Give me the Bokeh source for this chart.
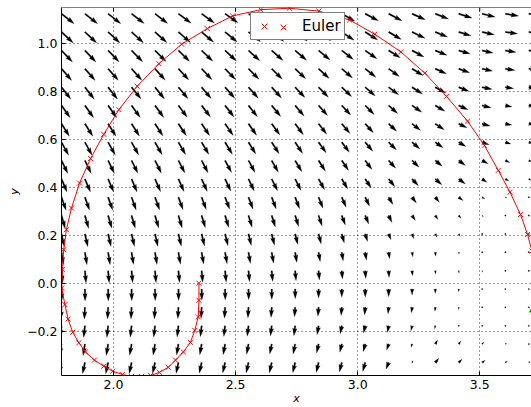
import math
from bokeh.plotting import figure
from bokeh.models import Range1d, FixedTicker, Span, Legend, LegendItem
from bokeh.embed import file_html
from bokeh.resources import INLINE

# ---------------- data ----------------
# quiver grid (tail positions)
grid_x = [1.787, 1.883, 1.978, 2.074, 2.170, 2.266, 2.361, 2.457, 2.553, 2.648, 2.744,
          2.840, 2.935, 3.031, 3.127, 3.223, 3.318, 3.414, 3.510, 3.605, 3.701]
grid_y = [1.122, 1.046, 0.969, 0.893, 0.816, 0.740, 0.664, 0.587, 0.511, 0.434,
          0.358, 0.282, 0.205, 0.129, 0.052, -0.024, -0.100, -0.177, -0.253, -0.330]

# arrow components (quiver units), one list per row of grid_y, one value per grid_x
U = [
    [12.7,12.7,12.7,12.7,12.7,12.8,12.8,12.9,12.9,13.0,13.0,13.0,13.1,13.2,13.3,13.3,13.3,13.3,13.0,13.3,13.3],
    [11.8,11.8,11.8,11.9,11.9,12.0,12.0,12.1,12.1,12.2,12.2,12.3,12.4,12.5,12.7,13.0,12.3,12.3,12.3,12.3,12.0],
    [11.0,11.0,11.0,11.1,11.1,11.2,11.2,11.3,11.3,11.4,11.5,11.5,11.6,11.7,11.7,12.0,11.7,11.5,11.0,10.7,10.0],
    [10.2,10.2,10.2,10.3,10.3,10.4,10.4,10.5,10.5,10.6,10.6,10.6,10.7,10.7,10.7,11.0,11.2,11.0,10.5,9.7,9.0],
    [9.4,9.4,9.4,9.5,9.5,9.6,9.6,9.7,9.7,9.8,9.8,9.8,9.9,10.0,10.0,10.5,10.5,10.3,10.0,8.3,7.5],
    [8.7,8.7,8.7,8.7,8.8,8.8,8.8,8.9,8.9,9.0,9.0,9.0,9.0,9.0,9.0,9.7,9.7,9.3,9.0,6.7,6.0],
    [7.9,7.9,7.9,7.9,8.0,8.0,8.0,8.1,8.1,8.2,8.2,8.2,8.2,8.2,8.0,8.5,9.0,8.3,8.0,6.5,5.5],
    [7.1,7.1,7.1,7.1,7.2,7.2,7.2,7.3,7.3,7.4,7.5,7.6,7.6,7.6,7.8,7.8,7.8,7.2,7.0,5.5,4.5],
    [6.3,6.3,6.3,6.3,6.4,6.4,6.4,6.5,6.5,6.6,6.7,6.8,6.8,6.8,7.0,7.0,7.0,6.7,6.0,4.5,3.5],
    [5.5,5.5,5.5,5.5,5.6,5.6,5.6,5.7,5.7,5.8,5.9,6.0,6.0,6.0,6.2,6.3,6.5,6.7,4.7,3.5,2.5],
    [4.6,4.6,4.6,4.6,4.6,4.6,4.6,4.6,4.5,4.5,4.4,4.4,4.4,4.4,4.3,4.3,4.0,4.3,2.7,1.5,1.0],
    [3.7,3.7,3.7,3.7,3.7,3.7,3.7,3.7,3.6,3.6,3.5,3.5,3.5,3.5,3.3,3.3,2.7,2.3,1.2,0.6,0.4],
    [2.9,2.9,2.9,2.9,2.9,2.9,2.9,2.9,2.8,2.8,2.7,2.6,2.5,2.3,2.3,1.7,1.7,1.5,0.6,0.3,0.2],
    [2.0,2.0,2.0,2.0,2.0,2.0,2.0,2.0,1.9,1.9,1.7,1.6,1.4,1.2,1.0,0.8,0.5,0.5,0.3,0.1,0.1],
    [1.1,1.1,1.1,1.1,1.1,1.1,1.1,1.1,1.0,1.0,0.9,0.8,0.7,0.6,0.5,0.4,0.3,0.3,0.2,0.1,0.1],
    [0.2,0.2,0.2,0.2,0.2,0.2,0.2,0.2,0.2,0.1,0.1,0.0,0.0,0.0,0.0,0.0,0.0,0.0,0.5,0.3,0.2],
    [-0.6,-0.6,-0.6,-0.6,-0.6,-0.6,-0.6,-0.6,-0.6,-0.7,-0.7,-0.7,-0.7,-0.7,-0.7,-0.7,-0.4,-0.3,0.5,0.5,0.3],
    [-1.3,-1.3,-1.3,-1.3,-1.3,-1.3,-1.3,-1.3,-1.3,-1.3,-1.3,-1.5,-1.7,-1.7,-1.3,-1.2,-0.6,0.3,0.8,0.8,0.5],
    [-1.9,-1.9,-1.9,-1.9,-1.9,-1.9,-1.9,-1.9,-1.9,-2.0,-2.0,-2.0,-2.0,-2.0,-2.0,-1.0,2.3,2.0,1.7,1.2,0.8],
    [-2.4,-2.4,-2.4,-2.4,-2.4,-2.4,-2.4,-2.4,-2.4,-2.4,-2.4,-2.4,-2.4,-2.5,-2.7,1.0,3.5,3.3,3.0,2.0,1.5],
]
V = [
    [-10.0,-10.0,-9.9,-9.8,-9.7,-9.5,-9.3,-9.1,-8.9,-8.6,-8.3,-7.9,-7.4,-7.0,-7.0,-6.0,-5.3,-4.3,-3.3,-2.3,-1.6],
    [-11.0,-11.0,-10.9,-10.8,-10.6,-10.4,-10.2,-10.0,-9.7,-9.4,-9.1,-8.7,-8.3,-7.9,-7.4,-6.3,-5.0,-3.7,-2.7,-1.7,-1.0],
    [-11.5,-11.5,-11.4,-11.3,-11.1,-10.9,-10.7,-10.5,-10.3,-10.1,-9.8,-9.4,-9.0,-8.3,-7.3,-6.5,-4.7,-3.3,-2.5,-1.7,-1.0],
    [-11.7,-11.7,-11.6,-11.5,-11.4,-11.2,-11.0,-10.8,-10.6,-10.4,-10.1,-9.7,-9.2,-8.5,-7.7,-6.7,-5.0,-4.0,-2.3,-1.6,-1.0],
    [-12.0,-12.0,-11.9,-11.8,-11.7,-11.5,-11.3,-11.1,-10.9,-10.7,-10.3,-9.9,-9.4,-8.7,-7.5,-6.7,-5.8,-4.0,-2.0,-1.3,-0.8],
    [-12.3,-12.3,-12.2,-12.1,-12.0,-11.8,-11.6,-11.4,-11.2,-11.0,-10.6,-10.1,-9.6,-8.9,-8.0,-6.7,-5.7,-4.3,-2.3,-1.3,-0.8],
    [-12.6,-12.6,-12.5,-12.4,-12.3,-12.1,-11.9,-11.7,-11.5,-11.3,-10.9,-10.4,-9.8,-9.0,-7.5,-6.7,-6.0,-4.0,-2.3,-1.3,-0.8],
    [-12.9,-12.9,-12.8,-12.7,-12.6,-12.4,-12.2,-12.0,-11.8,-11.6,-11.2,-10.6,-10.0,-9.0,-7.7,-6.7,-5.5,-4.3,-2.5,-1.7,-1.0],
    [-13.0,-13.0,-12.9,-12.8,-12.7,-12.5,-12.3,-12.1,-11.9,-11.7,-11.3,-10.7,-10.0,-9.0,-7.7,-6.7,-5.7,-5.0,-3.3,-2.0,-1.2],
    [-13.1,-13.1,-13.0,-12.9,-12.8,-12.6,-12.4,-12.2,-12.0,-11.8,-11.4,-10.8,-10.0,-9.0,-7.7,-6.7,-5.7,-5.0,-3.3,-2.0,-1.2],
    [-13.0,-13.0,-12.9,-12.8,-12.7,-12.5,-12.3,-12.1,-11.9,-11.7,-11.5,-11.0,-10.0,-9.0,-7.3,-5.7,-5.0,-3.3,-1.7,-0.8,-0.4],
    [-12.9,-12.9,-12.8,-12.7,-12.6,-12.4,-12.2,-12.0,-11.8,-11.5,-11.0,-10.5,-9.5,-8.5,-7.0,-5.0,-4.0,-2.7,-1.2,-0.5,-0.2],
    [-12.7,-12.7,-12.6,-12.5,-12.4,-12.2,-12.0,-11.8,-11.5,-11.2,-10.5,-10.0,-9.0,-7.5,-5.7,-4.7,-3.3,-2.3,-0.8,-0.3,-0.1],
    [-12.5,-12.5,-12.4,-12.3,-12.2,-12.0,-11.8,-11.6,-11.3,-11.0,-10.2,-9.5,-8.7,-8.0,-6.5,-4.5,-4.0,-2.0,-0.6,-0.2,-0.2],
    [-12.3,-12.3,-12.2,-12.1,-12.0,-11.8,-11.6,-11.4,-11.1,-10.7,-10.0,-9.3,-8.3,-7.7,-6.7,-5.0,-3.3,-2.3,-1.5,-0.5,-0.3],
    [-12.0,-12.0,-11.9,-11.8,-11.7,-11.5,-11.3,-11.1,-10.8,-10.4,-9.7,-9.0,-8.3,-8.3,-7.7,-6.0,-4.5,-2.7,-1.0,-0.3,-0.2],
    [-11.9,-11.9,-11.8,-11.7,-11.6,-11.4,-11.2,-11.0,-10.7,-10.3,-9.5,-9.0,-8.3,-7.7,-6.5,-5.5,-4.0,-2.3,0.3,0.5,0.3],
    [-11.7,-11.7,-11.6,-11.5,-11.4,-11.2,-11.0,-10.8,-10.5,-10.1,-10.0,-9.0,-8.0,-7.3,-6.7,-5.0,-3.0,-1.0,1.0,0.8,0.5],
    [-11.5,-11.5,-11.4,-11.3,-11.2,-11.0,-10.8,-10.6,-10.3,-10.0,-10.0,-9.0,-8.3,-7.7,-6.0,-3.3,4.0,3.0,2.0,1.2,0.8],
    [-11.3,-11.3,-11.2,-11.1,-11.0,-10.9,-10.7,-10.5,-10.4,-10.4,-10.3,-10.0,-9.5,-9.0,-6.7,2.0,4.3,3.3,2.3,1.5,1.0],
]

# Euler trajectory
euler_x = [2.350, 2.350, 2.347, 2.333, 2.315, 2.286, 2.254, 2.224, 2.188, 2.152, 2.115,
           2.074, 2.036, 1.997, 1.960, 1.922, 1.885, 1.858, 1.833, 1.814, 1.801, 1.788,
           1.791, 1.796, 1.807, 1.828, 1.861, 1.906, 1.960, 2.022, 2.097, 2.186, 2.279,
           2.384, 2.488, 2.603, 2.720, 2.841, 2.967, 3.070, 3.177, 3.275, 3.364, 3.450,
           3.519, 3.576, 3.624, 3.667, 3.696, 3.714, 3.735]
euler_y = [0.000, -0.071, -0.140, -0.196, -0.246, -0.286, -0.320, -0.350, -0.371, -0.384, -0.388,
           -0.388, -0.380, -0.366, -0.345, -0.320, -0.286, -0.248, -0.204, -0.149, -0.089, -0.020,
           0.058, 0.140, 0.223, 0.313, 0.417, 0.519, 0.620, 0.723, 0.820, 0.914, 0.995,
           1.060, 1.113, 1.139, 1.145, 1.133, 1.096, 1.037, 0.963, 0.875, 0.778, 0.675,
           0.574, 0.470, 0.379, 0.286, 0.203, 0.134, 0.060]

# partly visible green marker at the right edge
other_x = [3.725]
other_y = [-0.108]

x_ticks = [2.0, 2.5, 3.0, 3.5]
x_tick_labels = ["2.0", "2.5", "3.0", "3.5"]
y_ticks = [-0.2, 0.0, 0.2, 0.4, 0.6, 0.8, 1.0]
y_tick_labels = ["\u22120.2", "0.0", "0.2", "0.4", "0.6", "0.8", "1.0"]

# ---------------- layout ----------------
X0, X1 = 1.787, 3.712
Y0, Y1 = -0.384, 1.148
W, H = 531, 407
ML, MT, MB = 61, 7, 32
FW, FH = W - ML, H - MT - MB
XPP = (X1 - X0) / FW   # data units per screen pixel
YPP = (Y1 - Y0) / FH

FONT = "DejaVu Sans"

p = figure(width=W, height=H, x_range=Range1d(X0, X1), y_range=Range1d(Y0, Y1),
           output_backend="svg", toolbar_location=None,
           min_border_left=ML, min_border_right=0, min_border_top=MT, min_border_bottom=MB)
p.outline_line_color = None
p.background_fill_color = "white"
p.border_fill_color = "white"

for ax, ticks, labels in ((p.xaxis[0], x_ticks, x_tick_labels), (p.yaxis[0], y_ticks, y_tick_labels)):
    ax.ticker = FixedTicker(ticks=ticks)
    ax.major_label_overrides = {t: l for t, l in zip(ticks, labels)}
    ax.major_tick_in = 4
    ax.major_tick_out = 0
    ax.minor_tick_in = 0
    ax.minor_tick_out = 0
    ax.major_tick_line_color = "black"
    ax.axis_line_color = "black"
    ax.major_label_text_font = FONT
    ax.major_label_text_font_size = "12.5px"
    ax.major_label_text_color = "black"
    ax.major_label_standoff = 4
    ax.axis_label_text_font = FONT
    ax.axis_label_text_font_style = "italic"
    ax.axis_label_text_font_size = "11px"
    ax.axis_label_text_color = "black"
p.xaxis.axis_label = "x"
p.yaxis.axis_label = "y"
p.xaxis.axis_label_standoff = 0
p.yaxis.axis_label_standoff = 3

p.xgrid.ticker = FixedTicker(ticks=x_ticks)
p.ygrid.ticker = FixedTicker(ticks=y_ticks)
p.grid.grid_line_color = "black"
p.grid.grid_line_alpha = 0.8
p.grid.grid_line_dash = "1 3"
p.grid.grid_line_width = 1

# top frame line and inward ticks
p.add_layout(Span(location=Y1, dimension="width", line_color="black", line_width=1))
p.segment(x0=x_ticks, y0=[Y1] * len(x_ticks), x1=x_ticks,
          y1=[Y1 - 4 * YPP] * len(x_ticks), line_color="black", line_width=1)

# ---------------- quiver arrows (matplotlib-like shape) ----------------
SW = 1.5                  # shaft width in px
HL, HAL, HW = 5 * SW, 4.5 * SW, 3 * SW
axs, ays = [], []
for j, yv in enumerate(grid_y):
    for i, xv in enumerate(grid_x):
        u, v = U[j][i], V[j][i]
        L = math.hypot(u, v)
        if L < SW:
            pts = [(SW / 2 * math.cos(a * math.pi / 3), SW / 2 * math.sin(a * math.pi / 3)) for a in range(6)]
            axs.append([xv + px * XPP for px, py in pts])
            ays.append([yv + py * YPP for px, py in pts])
            continue
        s = min(1.0, L / HL)
        w, hl, hal, hw = SW * s, HL * s, HAL * s, HW * s
        shape = [(0, -w / 2), (L - hal, -w / 2), (L - hl, -hw / 2), (L, 0),
                 (L - hl, hw / 2), (L - hal, w / 2), (0, w / 2)]
        ux, uy = u / L, v / L
        nx, ny = -uy, ux
        axs.append([xv + (t * ux + n * nx) * XPP for t, n in shape])
        ays.append([yv + (t * uy + n * ny) * YPP for t, n in shape])

p.patches(axs, ays, fill_color="black", line_color="black", line_width=0.2)

# ---------------- trajectory ----------------
p.line(euler_x, euler_y, line_color="red", line_width=1)
sc = p.scatter(euler_x, euler_y, marker="x", size=7, line_color="red", line_width=1)
p.scatter(other_x, other_y, marker="triangle", size=10, line_color="green", fill_color="green")

# ---------------- legend ----------------
leg1 = Legend(items=[LegendItem(label="Euler", renderers=[sc])], location=(189, 335),
              padding=3, spacing=0, margin=0, glyph_width=20, glyph_height=20,
              label_height=20, label_width=10, label_standoff=28,
              label_text_font=FONT, label_text_font_size="15px", label_text_color="black",
              border_line_color="black", border_line_width=1,
              background_fill_color="white", background_fill_alpha=1.0)
leg2 = Legend(items=[LegendItem(label=" ", renderers=[sc])], location=(212, 338),
              padding=0, spacing=0, margin=0, glyph_width=20, glyph_height=20,
              label_height=20, label_width=0, label_standoff=0,
              label_text_font_size="2px",
              border_line_color=None, background_fill_alpha=0.0)
p.add_layout(leg1)
p.add_layout(leg2)

open("out.html", "w").write(file_html(p, INLINE))
